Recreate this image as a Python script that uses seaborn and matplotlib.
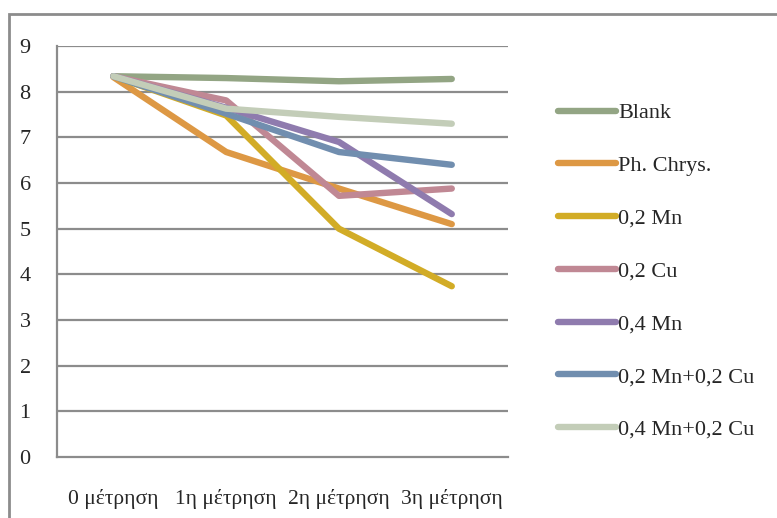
import matplotlib
matplotlib.use("Agg")
import matplotlib.pyplot as plt
import seaborn as sns
import pandas as pd
from matplotlib.patches import Rectangle

# Measurement stages (x axis)
stages = ["0 μέτρηση", "1η μέτρηση", "2η μέτρηση", "3η μέτρηση"]

# Series values per treatment
blank = [8.34, 8.30, 8.23, 8.28]
ph_chrys = [8.32, 6.68, 5.88, 5.10]
mn_02 = [8.34, 7.48, 5.00, 3.74]
cu_02 = [8.34, 7.81, 5.72, 5.88]
mn_04 = [8.34, 7.65, 6.90, 5.32]
mn02_cu02 = [8.34, 7.52, 6.68, 6.40]
mn04_cu02 = [8.34, 7.63, 7.45, 7.30]

series_names = ["Blank", "Ph. Chrys.", "0,2 Mn", "0,2 Cu", "0,4 Mn",
                "0,2 Mn+0,2 Cu", "0,4 Mn+0,2 Cu"]
series_values = [blank, ph_chrys, mn_02, cu_02, mn_04, mn02_cu02, mn04_cu02]
colors = ["#93A584", "#DD9844", "#D2AC26", "#C08894", "#8F7BAE",
          "#718EAF", "#C3CDB8"]

y_ticks = list(range(0, 10))

rows = []
for name, vals in zip(series_names, series_values):
    for s, v in zip(stages, vals):
        rows.append({"stage": s, "value": v, "series": name})
df = pd.DataFrame(rows)

sns.set_style("white")
plt.rcParams["font.family"] = ["Liberation Serif", "DejaVu Serif"]

fig = plt.figure(figsize=(7.77, 5.18), dpi=100)
ax = fig.add_axes([0.0734, 0.1178, 0.5806, 0.7932])

grid_c = "#8C8C8C"
for y in y_ticks[1:]:
    ax.axhline(y, color=grid_c, lw=1.6, zorder=0)

sns.lineplot(data=df, x="stage", y="value", hue="series",
             hue_order=series_names, palette=colors, sort=False,
             linewidth=4.6, ax=ax, legend=False,
             solid_capstyle="round", solid_joinstyle="round")

ax.set_xlim(-0.5, 3.5)
ax.set_ylim(0, 9)
ax.set_yticks(y_ticks)
ax.set_yticklabels([str(t) for t in y_ticks], fontsize=16)

# category boundaries carry the tick marks, labels sit at the centres
ax.set_xticks([-0.5, 0.5, 1.5, 2.5, 3.5])
ax.set_xticklabels([])
ax.set_xticks(range(len(stages)), minor=True)
ax.set_xticklabels(stages, minor=True, fontsize=15.5)
ax.tick_params(axis="x", which="minor", length=0, pad=23)
ax.tick_params(axis="x", which="major", length=6, width=1.6, color=grid_c,
               direction="out")
ax.tick_params(axis="y", length=6, width=1.6, color=grid_c, direction="out",
               pad=13)
ax.set_xlabel("")
ax.set_ylabel("")

for side in ["top", "right"]:
    ax.spines[side].set_visible(False)
for side in ["left", "bottom"]:
    ax.spines[side].set_color(grid_c)
    ax.spines[side].set_linewidth(1.6)

# legend
handles = [plt.Line2D([0], [0], color=c, lw=4.6, solid_capstyle="round")
           for c in colors]
fig.legend(handles, series_names, loc="center left",
           bbox_to_anchor=(0.718, 0.476), frameon=False, fontsize=16,
           handlelength=2.6, handletextpad=0.12, labelspacing=1.45,
           borderpad=0, borderaxespad=0)

# outer chart border
fig.patches.append(Rectangle((9 / 777, -0.05), 1.0, 1 - 14 / 518 + 0.05,
                             transform=fig.transFigure, fill=False,
                             edgecolor=grid_c, linewidth=2, zorder=10))

fig.savefig("out.png", dpi=100, facecolor="white")
